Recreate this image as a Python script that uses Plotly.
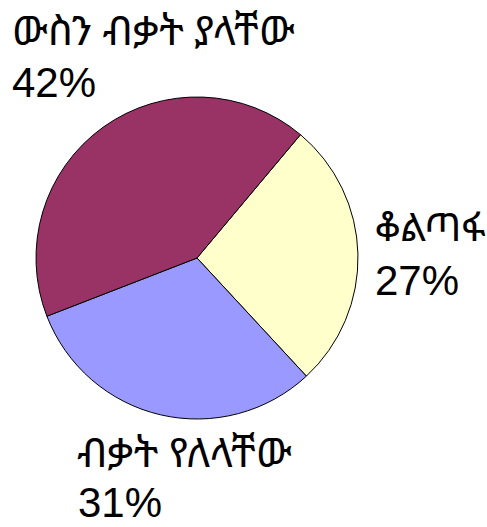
import plotly.graph_objects as go

labels = ["ቆልጣፋ", "ብቃት የለላቸው", "ውስን ብቃት ያላቸው"]
values = [27, 31, 42]
colors = ["#FFFFCC", "#9999FF", "#993366"]
pct_text = ["27%", "31%", "42%"]

W, H = 487, 527
cx, cy, r = 197, 258, 161
fig = go.Figure(go.Pie(
    labels=labels, values=values, sort=False, direction="clockwise", rotation=40,
    marker=dict(colors=colors, line=dict(color="black", width=1)),
    textinfo="none", hoverinfo="label+percent", showlegend=False,
    domain=dict(x=[(cx - r)/W, (cx + r)/W], y=[(H - cy - r)/H, (H - cy + r)/H]),
))

# label positions (px from left/top): name line and percent line
pos = {
    0: ((375, 225), (375, 281)),
    1: ((77, 451), (78, 503)),
    2: ((12, 29), (12, 83)),
}
eth_sizes = [39, 41, 41]
num_font = dict(family="Arial, Liberation Sans, sans-serif", size=42, color="black")
for i in range(3):
    (nx, ny), (px, py) = pos[i]
    eth_font = dict(family="Noto Sans Ethiopic, Abyssinica SIL, DejaVu Sans, sans-serif",
                    size=eth_sizes[i], color="black")
    fig.add_annotation(x=(nx - 2)/W, y=1-ny/H, xref="paper", yref="paper", text=labels[i],
                       showarrow=False, xanchor="left", yanchor="middle", font=eth_font)
    fig.add_annotation(x=(px - 2)/W, y=1-(py - 1)/H, xref="paper", yref="paper", text=pct_text[i],
                       showarrow=False, xanchor="left", yanchor="middle", font=num_font)

fig.update_layout(width=W, height=H, margin=dict(l=0, r=0, t=0, b=0),
                  paper_bgcolor="white", plot_bgcolor="white")
fig.write_html("out.html", config={"displayModeBar": False},
               post_script="document.body.style.margin='0';")
